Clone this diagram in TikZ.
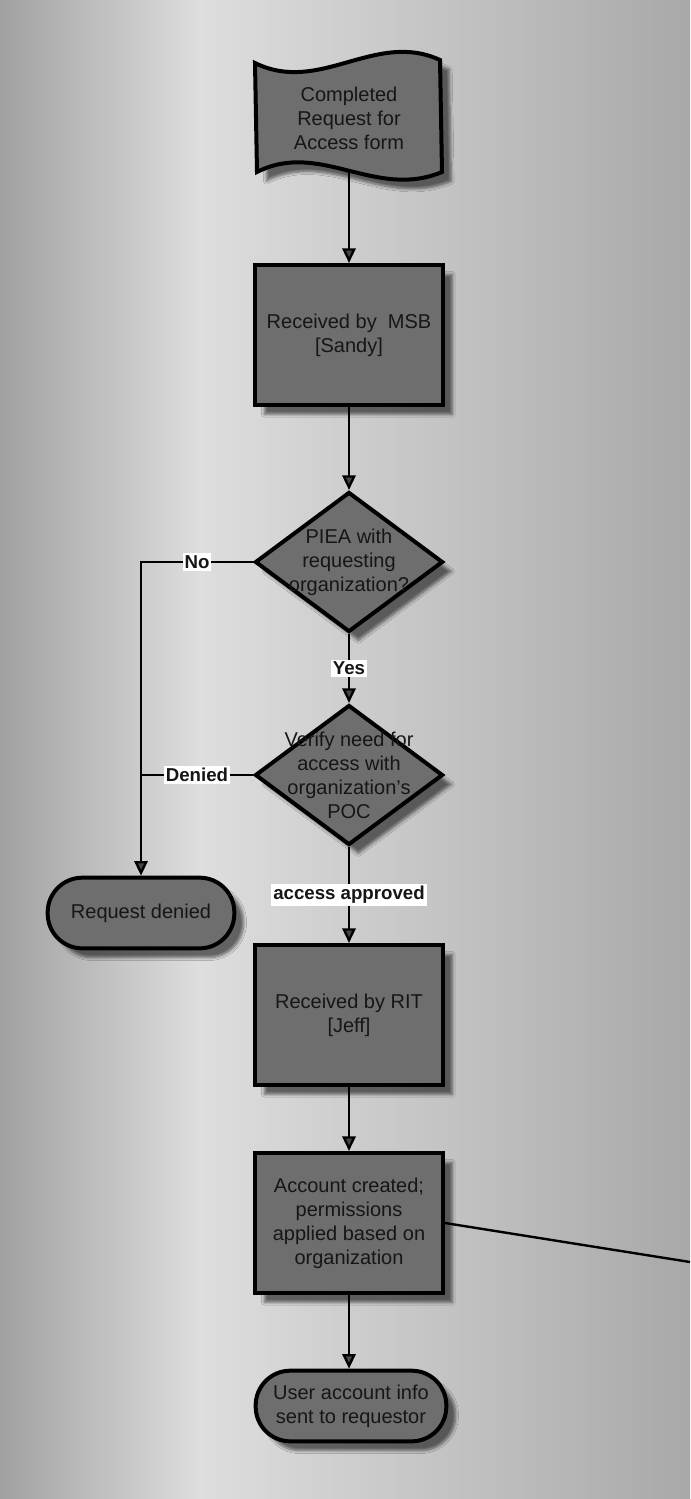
\documentclass[tikz,border=0pt]{standalone}
\usepackage{fontspec}
\setmainfont{Liberation Sans}
\usepackage{tikz}
\usetikzlibrary{shapes.geometric}
\usetikzlibrary{shadows.blur}
\usetikzlibrary{arrows.meta}
\definecolor{boxgray}{RGB}{110,110,110}
\definecolor{inkgray}{RGB}{22,22,22}
\tikzset{
  flowshadow/.style={blur shadow={shadow xshift=7pt,shadow yshift=-7pt,shadow blur steps=6,shadow opacity=55}},
  boxtext/.style={align=center,text=inkgray,font=\fontsize{15}{18}\selectfont},
  procbox/.style={rectangle,draw=black,line width=3pt,fill=boxgray,flowshadow,minimum width=141pt,minimum height=105pt,inner sep=2pt,boxtext},
  decision/.style={diamond,draw=black,line width=3pt,fill=boxgray,flowshadow,minimum width=141pt,minimum height=105pt,inner sep=0pt},
  terminal/.style={rectangle,rounded corners=26pt,draw=black,line width=3pt,fill=boxgray,flowshadow,minimum height=53pt,inner sep=2pt,boxtext},
  flowarrow/.style={line width=1.8pt,-{Triangle[length=11pt,width=10pt]}},
  flowline/.style={line width=1.8pt},
  branchlabel/.style={fill=white,text=inkgray,font=\bfseries\fontsize{14}{16}\selectfont,inner sep=1.5pt}
}
\begin{document}
\begin{tikzpicture}[x=0.75pt,y=0.75pt,yscale=-1,xscale=1]
\useasboundingbox (0,0) rectangle (690,1499);

%Background
\shade[left color=gray!74,right color=gray!26] (0,0) rectangle (200,1499);
\shade[left color=gray!26,right color=gray!68] (200,0) rectangle (690,1499);

%Flowchart: Document
\draw [line width=3pt,fill=boxgray,blur shadow={shadow xshift=7pt,shadow yshift=-7pt,shadow blur steps=6,shadow opacity=55}] (255,63) .. controls (320,95) and (375,30) .. (440,60) -- (442,172) .. controls (375,200) and (320,140) .. (257,172) -- cycle ;
\node [boxtext,minimum height=78pt] (reqform) at (349,118) {Completed\\Request for\\Access form};

%Flowchart: Process
\node [procbox] (msb) at (349,335) {Received by\ \ MSB\\{}[Sandy]};
%Flowchart: Decision
\node [decision,label={[boxtext]center:PIEA with\\requesting\\organization?}] (piea) at (349,562) {};
%Flowchart: Decision
\node [decision,label={[boxtext]center:Verify need for\\access with\\organization's\\POC}] (verify) at (349,775) {};
%Flowchart: Terminator
\node [terminal,minimum width=140pt] (denied) at (141,913) {Request denied};
%Flowchart: Process
\node [procbox] (rit) at (349,1015) {Received by RIT\\{}[Jeff]};
%Flowchart: Process
\node [procbox] (acct) at (349,1223) {Account created;\\permissions\\applied based on\\organization};
%Flowchart: Terminator
\node [terminal,minimum width=143pt] (sent) at (351,1406) {User account info\\sent to requestor};

\coordinate (offpage) at (690,1262);

%Connectors
\draw [flowarrow] (reqform.south) -- (msb.north);
\draw [flowarrow] (msb.south) -- (piea.north);
\draw [flowarrow] (piea.south) -- node[branchlabel] (yeslbl) {Yes} (verify.north);
\draw [flowarrow] (piea.west) -| node[branchlabel,pos=0.25] (nolbl) {No} (denied.north);
\draw [flowline] (verify.west) -- node[branchlabel] (deniedlbl) {Denied} (verify.west -| denied.north);
\draw [flowarrow] (verify.south) -- node[branchlabel] (approvedlbl) {access approved} (rit.north);
\draw [flowarrow] (rit.south) -- (acct.north);
\draw [flowarrow] (acct.south) -- (acct.south |- sent.north);
\draw [flowline] (acct.east) -- (offpage);

\end{tikzpicture}
\end{document}
